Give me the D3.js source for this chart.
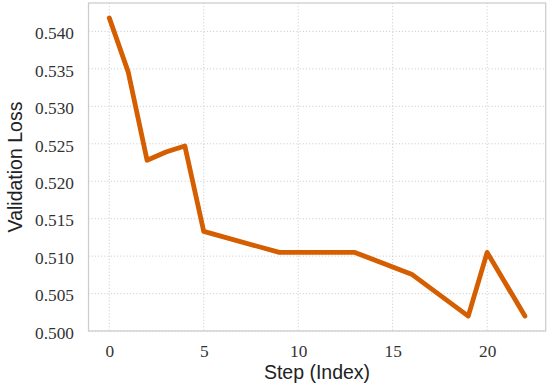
<!DOCTYPE html>
<html>
<head>
<meta charset="utf-8">
<script src="https://cdn.jsdelivr.net/npm/d3@7"></script>
<style>
  html, body { margin: 0; padding: 0; background: #fff; }
  svg { display: block; }
</style>
</head>
<body>
<svg id="chart" width="547" height="386"></svg>
<script>
// Validation loss recorded at each evaluation step
const steps  = [0, 1, 2, 3, 4, 5, 9, 13, 16, 19, 20, 22];
const losses = [0.5418, 0.5346, 0.5228, 0.5239, 0.5247, 0.5133, 0.5105, 0.5105, 0.5076, 0.5020, 0.5105, 0.5020];

const xTicks = [0, 5, 10, 15, 20];
const yTicks = [0.500, 0.505, 0.510, 0.515, 0.520, 0.525, 0.530, 0.535, 0.540];

const W = 547, H = 386;
const margin = { left: 88.5, right: 1.3, top: 3, bottom: 55 };
const iw = W - margin.left - margin.right;
const ih = H - margin.top - margin.bottom;

// 5% padding around the data extent on both axes
const pad = (lo, hi) => { const d = (hi - lo) * 0.05; return [lo - d, hi + d]; };
const x = d3.scaleLinear().domain(pad(d3.min(steps), d3.max(steps))).range([0, iw]);
const y = d3.scaleLinear().domain(pad(d3.min(losses), d3.max(losses))).range([ih, 0]);

const svg = d3.select("#chart");
const g = svg.append("g").attr("transform", `translate(${margin.left},${margin.top})`);

const gridColor = "#c8c8c8";

// Dotted grid
g.append("g").selectAll("line").data(xTicks).join("line")
  .attr("x1", d => x(d)).attr("x2", d => x(d))
  .attr("y1", 0).attr("y2", ih)
  .attr("stroke", gridColor).attr("stroke-width", 1)
  .attr("stroke-dasharray", "1,2.2");
g.append("g").selectAll("line").data(yTicks).join("line")
  .attr("x1", 0).attr("x2", iw)
  .attr("y1", d => y(d)).attr("y2", d => y(d))
  .attr("stroke", gridColor).attr("stroke-width", 1)
  .attr("stroke-dasharray", "1,2.2");

// Axes (tick marks hidden, labels only)
const tickFont = "'Liberation Serif', serif";
const xAxis = g.append("g").attr("transform", `translate(0,${ih})`)
  .call(d3.axisBottom(x).tickValues(xTicks).tickSize(0).tickPadding(14).tickFormat(d3.format("d")));
const yAxis = g.append("g")
  .call(d3.axisLeft(y).tickValues(yTicks).tickSize(0).tickPadding(14.5).tickFormat(d3.format(".3f")));
[xAxis, yAxis].forEach(a => {
  a.select(".domain").remove();
  a.selectAll("text").attr("font-family", tickFont).attr("font-size", 17.3).attr("fill", "#333");
});
yAxis.selectAll("text").attr("dy", "0.42em");

// Frame
g.append("rect").attr("x", 0).attr("y", 0).attr("width", iw).attr("height", ih)
  .attr("fill", "none").attr("stroke", "#cccccc").attr("stroke-width", 1.25);

// Loss curve
const line = d3.line().x((d, i) => x(steps[i])).y(d => y(d));
g.append("path").datum(losses)
  .attr("d", line)
  .attr("fill", "none")
  .attr("stroke", "#d55e00")
  .attr("stroke-width", 4.8)
  .attr("stroke-linejoin", "round")
  .attr("stroke-linecap", "round");

// Axis titles
const labelFont = "'Liberation Sans', Arial, sans-serif";
svg.append("text")
  .attr("x", 317).attr("y", 378.5)
  .attr("text-anchor", "middle")
  .attr("font-family", labelFont).attr("font-size", 19.5).attr("fill", "#222")
  .text("Step (Index)");
svg.append("text")
  .attr("transform", `translate(22,${margin.top + ih / 2}) rotate(-90)`)
  .attr("text-anchor", "middle")
  .attr("font-family", labelFont).attr("font-size", 19.5).attr("fill", "#222")
  .text("Validation Loss");
</script>
</body>
</html>
